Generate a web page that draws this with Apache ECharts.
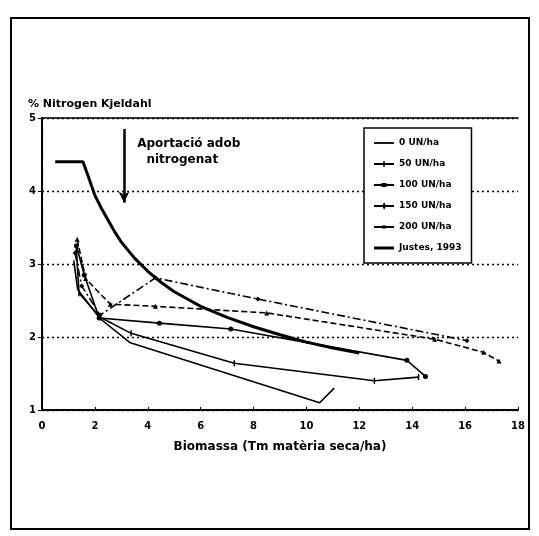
<!DOCTYPE html>
<html><head><meta charset="utf-8">
<script src="https://cdn.jsdelivr.net/npm/echarts@6/dist/echarts.min.js"></script>
<style>html,body{margin:0;padding:0;background:#fff}#c{width:539px;height:536px}</style>
</head><body><div id="c"></div>
<script>
const xTicks = [0,2,4,6,8,10,12,14,16,18];
const yTicks = [1,2,3,4,5];
const seriesNames = ['0 UN/ha','50 UN/ha','100 UN/ha','150 UN/ha','200 UN/ha','Justes, 1993'];
const n0   = [[1.2,3.05],[1.35,2.65],[2.2,2.25],[3.34,1.92],[10.5,1.1],[11.05,1.3]];
const n50  = [[1.3,3.2],[1.4,2.6],[2.2,2.27],[3.37,2.05],[7.27,1.64],[12.57,1.40],[14.24,1.45]];
const n100 = [[1.3,3.25],[1.6,2.85],[2.16,2.26],[4.44,2.19],[7.14,2.11],[13.8,1.68],[14.5,1.46]];
const n150 = [[1.33,3.34],[1.65,2.8],[2.58,2.45],[4.29,2.42],[8.5,2.33],[14.85,1.97],[16.7,1.79],[17.28,1.67]];
const n200 = [[1.25,3.15],[1.5,2.7],[2.2,2.3],[4.29,2.81],[8.16,2.52],[16.07,1.95]];
const justes = [[0.5,4.4],[1.55,4.4],[1.75,4.2],[2,3.94],[2.25,3.76],[2.5,3.6],[2.75,3.44],[3,3.3],[3.5,3.08],[4,2.9],[4.5,2.75],[5,2.62],[5.5,2.52],[6,2.42],[7,2.27],[8,2.14],[9,2.03],[10,1.93],[11,1.85],[12,1.78]];
const arrowX = 3.1, arrowTop = 4.85, arrowTip = 3.84;

const FONT = 'DejaVu Sans';
const chart = echarts.init(document.getElementById('c'));
function ser(name, data, symbol, size, type, width){
  return {name, type:'line', data, symbol, symbolSize:size, showSymbol: symbol!=='none',
    lineStyle:{color:'#000', width:width||1.6, type:type||'solid'},
    itemStyle:{color:'#000'}, z:3, animation:false};
}
const B = 'M0,0 M20,14 ';
const lineBar = 'M0,6.1 L20,6.1 L20,7.9 L0,7.9 Z ';
const icons = [
  'path://' + B + lineBar,
  'path://' + B + lineBar + 'M9.3,4 L10.7,4 L10.7,10 L9.3,10 Z',
  'path://' + B + lineBar + 'M7.5,5 L12.5,5 L12.5,9 L7.5,9 Z',
  'path://' + B + lineBar + 'M10,3 L12,7 L10,11 L8.5,7 Z',
  'path://' + B + lineBar + 'M8,5.5 L12,5.5 L12,8.5 L8,8.5 Z',
  'path://' + B + 'M0,5.5 L20,5.5 L20,8.5 L0,8.5 Z'
];
const option = {
  animation:false,
  backgroundColor:'#fff',
  grid:{left:42,right:21,top:118,bottom:126, containLabel:false, outerBoundsMode:'none'},
  legend:{
    data:seriesNames.map((n,i)=>({name:n, icon:icons[i]})), orient:'vertical', left:364, top:128, width:134, height:132,
    padding:[8,10,8,10], itemWidth:20, itemHeight:14, itemGap:7,
    borderColor:'#000', borderWidth:1.5, backgroundColor:'#fff',
    itemStyle:{color:'#000', borderWidth:0},
    lineStyle:{width:0},
    textStyle:{fontFamily:FONT, fontWeight:'bold', fontSize:9, color:'#000'}
  },
  xAxis:[{
    type:'value', min:0, max:18, interval:2,
    name:'Biomassa (Tm matèria seca/ha)', nameLocation:'middle', nameGap:31,
    nameTextStyle:{fontFamily:FONT, fontWeight:'bold', fontSize:12, color:'#000'},
    axisLine:{lineStyle:{color:'#000', width:2}},
    axisTick:{inside:true, length:3, lineStyle:{color:'#000'}},
    axisLabel:{fontFamily:FONT, fontWeight:'bold', fontSize:10, color:'#000', margin:11},
    splitLine:{show:false}
  },{
    type:'value', min:0, max:18, position:'top',
    axisLine:{lineStyle:{color:'#000', width:1.5}}, axisTick:{show:false}, axisLabel:{show:false}, splitLine:{show:false}
  }],
  yAxis:[{
    type:'value', min:1, max:5, interval:1,
    name:'% Nitrogen Kjeldahl', nameLocation:'end', nameGap:8,
    nameTextStyle:{fontFamily:FONT, fontWeight:'bold', fontSize:11, color:'#000', align:'left', padding:[0,0,0,-14]},
    axisLine:{lineStyle:{color:'#000', width:2}},
    axisTick:{show:true, length:4, inside:false, lineStyle:{color:'#000'}},
    axisLabel:{fontFamily:FONT, fontWeight:'bold', fontSize:10, color:'#000', margin:6},
    splitLine:{show:true, lineStyle:{color:'#000', type:[2,3], width:1.3}}
  },{
    type:'value', min:1, max:5, position:'right',
    axisLine:{show:true, lineStyle:{color:'#000', width:1.3, type:[2,3]}}, axisTick:{show:false}, axisLabel:{show:false}, splitLine:{show:false}
  }],
  series:[
    ser(seriesNames[0], n0, 'none', 0),
    ser(seriesNames[1], n50, 'rect', [1.5,6]),
    ser(seriesNames[2], n100, 'circle', 5),
    ser(seriesNames[3], n150, 'triangle', 5, [6,3]),
    ser(seriesNames[4], n200, 'diamond', 5, [8,3,2,3]),
    Object.assign(ser(seriesNames[5], justes, 'none', 0, 'solid', 3), {
      smooth:false,
      markLine:{silent:true, symbol:['none','arrow'], symbolSize:[8,11],
        lineStyle:{color:'#000', width:2.5, type:'solid'}, label:{show:false},
        data:[[{coord:[arrowX,arrowTop]},{coord:[arrowX,arrowTip]}]]}
    })
  ]
};
chart.setOption(option);
const p1 = chart.convertToPixel({xAxisIndex:0,yAxisIndex:0},[3.6,4.65]);
const p2 = chart.convertToPixel({xAxisIndex:0,yAxisIndex:0},[3.95,4.42]);
chart.setOption({graphic:[
  {type:'rect', shape:{x:11,y:18,width:518,height:511}, style:{fill:'none', stroke:'#000', lineWidth:2}, silent:true},
  {type:'text', x:p1[0], y:p1[1], style:{text:'Aportació adob', font:'bold 12px "DejaVu Sans"', fill:'#000', verticalAlign:'middle'}},
  {type:'text', x:p2[0], y:p2[1], style:{text:'nitrogenat', font:'bold 12px "DejaVu Sans"', fill:'#000', verticalAlign:'middle'}}
]});
</script></body></html>
